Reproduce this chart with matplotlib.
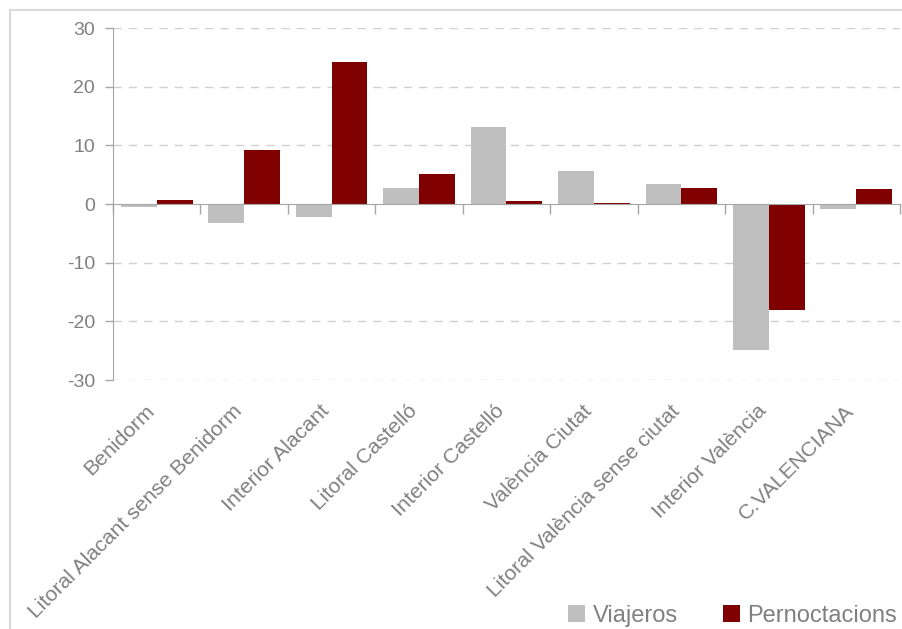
import numpy as np
import matplotlib.pyplot as plt
from matplotlib.patches import Rectangle
import matplotlib.transforms as mtransforms

plt.rcParams['font.family'] = ['Liberation Sans', 'DejaVu Sans']
plt.rcParams['axes.unicode_minus'] = False

## Data
categories = ['Benidorm', 'Litoral Alacant sense Benidorm', 'Interior Alacant',
              'Litoral Castelló', 'Interior Castelló', 'València Ciutat',
              'Litoral València sense ciutat', 'Interior València', 'C.VALENCIANA']
viajeros = [-0.45, -3.3, -2.2, 2.7, 13.2, 5.7, 3.4, -24.9, -0.85]
pernoctacions = [0.7, 9.2, 24.2, 5.1, 0.5, 0.2, 2.7, -18.1, 2.6]
yticks = [-30, -20, -10, 0, 10, 20, 30]

grey_bar = '#bfbfbf'
red_bar = '#800000'
text_col = '#808080'
axis_col = '#a6a6a6'

## Figure
fig = plt.figure(figsize=(9.03, 6.29), dpi=100)
ax = fig.add_axes([113/903, 1-380/629, 787/903, 352/629])

# outer border of the chart area
fig.patches.append(Rectangle((10/903, -0.2), 2, 1 - 9.5/629 + 0.2, fill=False,
                             edgecolor='#d9d9d9', linewidth=1.5,
                             transform=fig.transFigure))

x = np.arange(len(categories))
w = 0.41
ax.bar(x - w/2, viajeros, w, color=grey_bar, label='Viajeros', zorder=3)
ax.bar(x + w/2, pernoctacions, w, color=red_bar, label='Pernoctacions', zorder=3)

ax.set_xlim(-0.5, len(categories) - 0.5)
ax.set_ylim(-30, 30)
ax.set_yticks(yticks)
ax.tick_params(axis='y', colors=axis_col, labelcolor=text_col, labelsize=14,
               length=6, width=1, pad=7)
for t in yticks:
    if t != 0:
        ax.axhline(t, color='#d0d0d0', linestyle=(0, (6, 5)), linewidth=1, zorder=1)

# spines: left and zero line
for s in ['top', 'right']:
    ax.spines[s].set_visible(False)
ax.spines['left'].set_color(axis_col)
ax.spines['bottom'].set_position(('data', 0))
ax.spines['bottom'].set_color(axis_col)
ax.spines['bottom'].set_zorder(4)
ax.set_xticks(np.arange(len(categories) + 1) - 0.5)
ax.set_xticklabels([])
ax.tick_params(axis='x', colors=axis_col, length=7, width=1, direction='out')

# category labels below the plot
trans = mtransforms.blended_transform_factory(ax.transData, ax.transAxes)
for i, name in enumerate(categories):
    ax.text(i + 0.02, -0.06, name, transform=trans, rotation=45, ha='right', va='top',
            fontsize=15.3, color=text_col)

fig.legend(loc='lower right', bbox_to_anchor=(1.017, -0.03), ncol=2, frameon=False,
           fontsize=17, labelcolor=text_col, handlelength=0.75, handleheight=0.75,
           handletextpad=0.3, columnspacing=1.9)

fig.savefig('out.png', dpi=100)
